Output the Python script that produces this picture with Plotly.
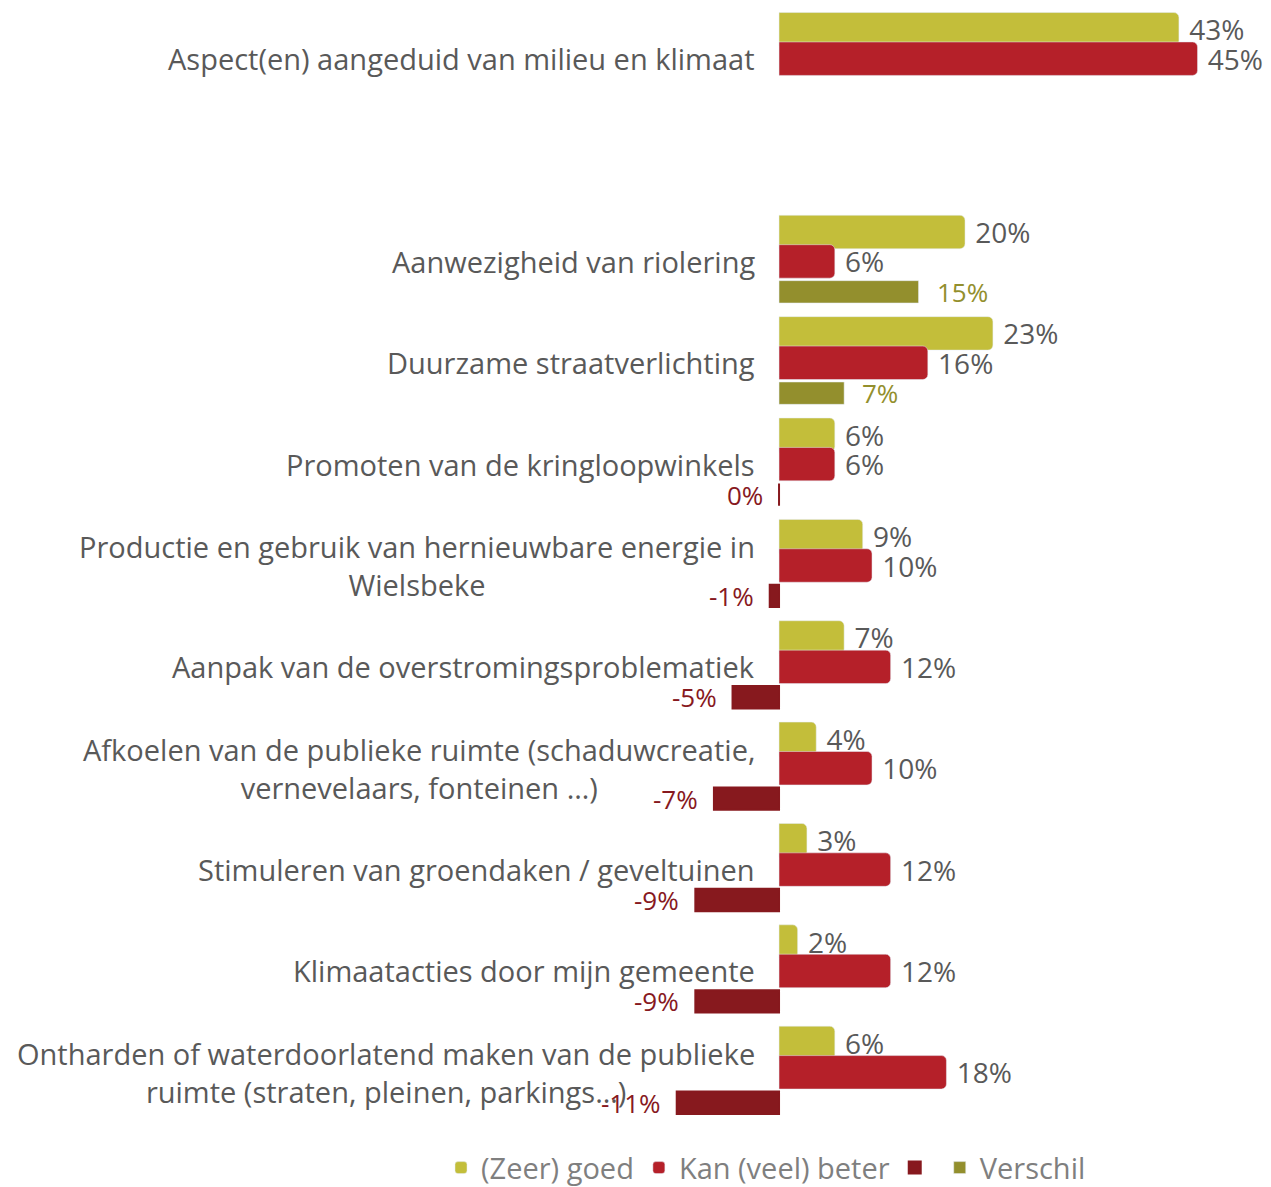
import plotly.graph_objects as go

categories = [
    "Aspect(en) aangeduid van milieu en klimaat",
    "Aanwezigheid van riolering",
    "Duurzame straatverlichting",
    "Promoten van de kringloopwinkels",
    "Productie en gebruik van hernieuwbare energie in<br>Wielsbeke",
    "Aanpak van de overstromingsproblematiek",
    "Afkoelen van de publieke ruimte (schaduwcreatie,<br>vernevelaars, fonteinen \u2026)",
    "Stimuleren van groendaken / geveltuinen",
    "Klimaatacties door mijn gemeente",
    "Ontharden of waterdoorlatend maken van de publieke<br>ruimte (straten, pleinen, parkings\u2026)",
]
goed = [43, 20, 23, 6, 9, 7, 4, 3, 2, 6]
beter = [45, 6, 16, 6, 10, 12, 10, 12, 12, 18]
verschil = [None, 15, 7, 0, -1, -5, -7, -9, -9, -11]

# first row stands alone, one empty slot before the rest
pos = [0] + list(range(2, 2 + len(categories) - 1))

C_GOED = "#C3BE3A"
C_BETER = "#B52029"
C_NEG = "#87191E"
C_POS = "#938F2D"
GREY = "#595959"
FONT = "Open Sans"

fig = go.Figure()

fig.add_trace(go.Bar(
    name="(Zeer) goed", orientation="h",
    x=goed, y=[p - 0.29 for p in pos], width=0.33,
    marker=dict(color=C_GOED, cornerradius=5),
    text=["\u00a0" + f"{v}%" for v in goed], textposition="outside",
    textfont=dict(size=28, color=GREY, family=FONT),
    constraintext="none", cliponaxis=False,
))
fig.add_trace(go.Bar(
    name="Kan (veel) beter", orientation="h",
    x=beter, y=pos, width=0.33,
    marker=dict(color=C_BETER, cornerradius=5),
    text=["\u00a0" + f"{v}%" for v in beter], textposition="outside",
    textfont=dict(size=28, color=GREY, family=FONT),
    constraintext="none", cliponaxis=False,
))

neg = [(v, p) for v, p in zip(verschil, pos) if v is not None and v <= 0]
posv = [(v, p) for v, p in zip(verschil, pos) if v is not None and v > 0]

fig.add_trace(go.Bar(
    name="", orientation="h",
    x=[v for v, p in neg], y=[p + 0.3 for v, p in neg], width=0.22,
    marker=dict(color=C_NEG, line=dict(color=C_NEG, width=2)), cliponaxis=False,
))
fig.add_trace(go.Bar(
    name="Verschil", orientation="h",
    x=[v for v, p in posv], y=[p + 0.3 for v, p in posv], width=0.22,
    marker=dict(color=C_POS), cliponaxis=False,
))

for v, p in neg:
    fig.add_annotation(x=v, y=p + 0.3, xref="x", yref="y", text=f"{v}%",
                       showarrow=False, xanchor="right", xshift=-14,
                       font=dict(size=26, color=C_NEG, family=FONT))
for v, p in posv:
    fig.add_annotation(x=v, y=p + 0.3, xref="x", yref="y", text=f"{v}%",
                       showarrow=False, xanchor="left", xshift=16,
                       font=dict(size=26, color=C_POS, family=FONT))

for cat, p in zip(categories, pos):
    fig.add_annotation(x=0, y=p, xref="x", yref="y", text=cat,
                       showarrow=False, xanchor="right", xshift=-22,
                       align="center",
                       font=dict(size=29, color=GREY, family=FONT))

fig.update_layout(
    width=1271, height=1187,
    barmode="overlay",
    plot_bgcolor="white", paper_bgcolor="white",
    margin=dict(l=592, r=28, t=0, b=72),
    font=dict(family=FONT, color=GREY),
    showlegend=True,
    legend=dict(orientation="h", x=0.255, xanchor="center", y=-0.063, yanchor="bottom",
                font=dict(size=29, color="#7F7F7F", family=FONT),
                traceorder="normal", itemwidth=30),
)
fig.update_xaxes(range=[-19.25, 50.75], visible=False)
fig.update_yaxes(range=[10.5, -0.5], visible=False)

fig.write_html("out.html")
